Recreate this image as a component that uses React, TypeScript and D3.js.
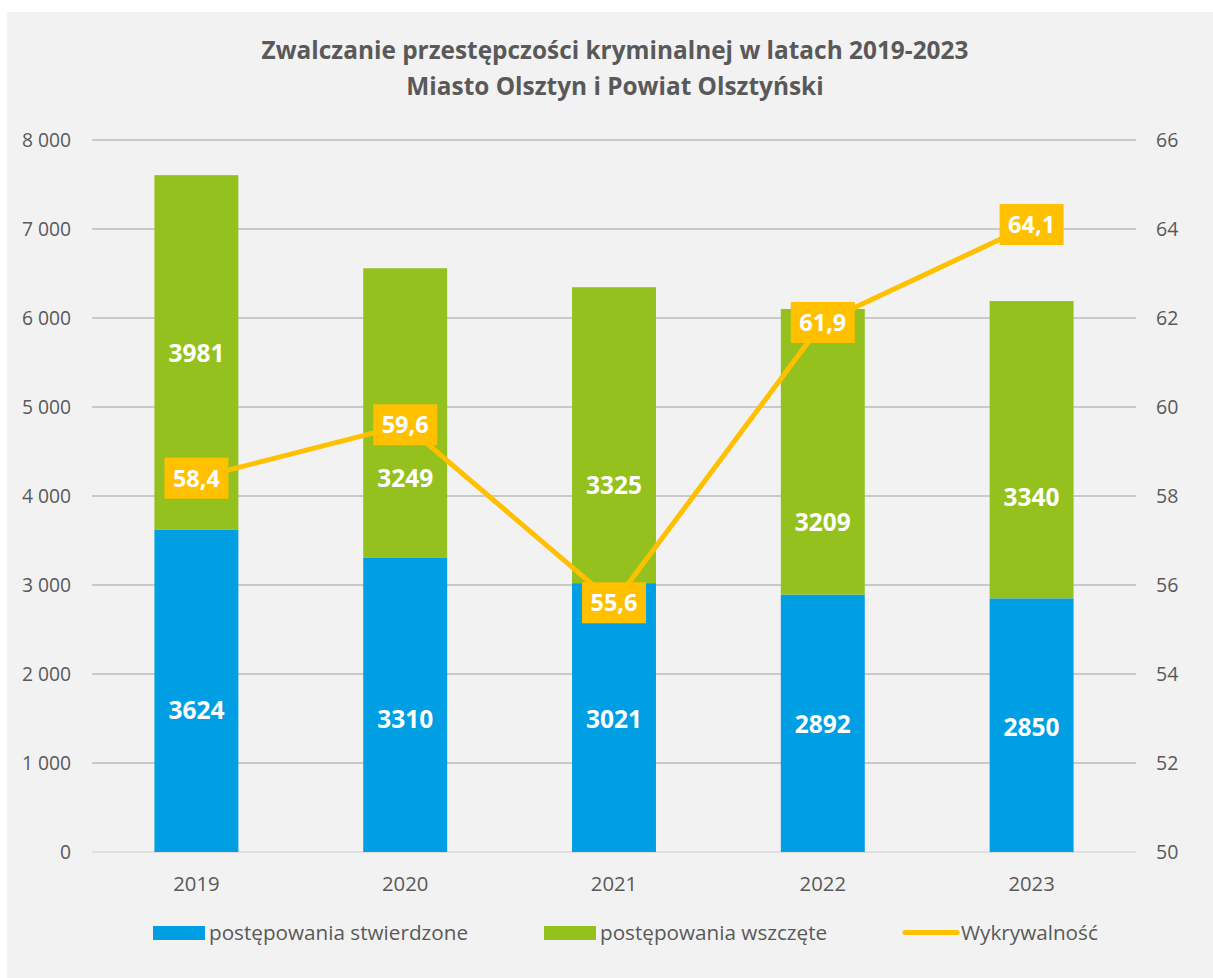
import React from "react";
import * as d3 from "d3";

const years = ["2019", "2020", "2021", "2022", "2023"];
const stwierdzone = [3624, 3310, 3021, 2892, 2850];
const wszczete = [3981, 3249, 3325, 3209, 3340];
const wykrywalnosc = [58.4, 59.6, 55.6, 61.9, 64.1];
// data-unit anchors for the (manually placed) bar labels
const blueLabelAt = [1596, 1494, 1494, 1438, 1404];
const greenLabelAt = [5607, 4202, 4120, 3708, 3990];
const leftTicks = [0, 1000, 2000, 3000, 4000, 5000, 6000, 7000, 8000];
const rightTicks = [50, 52, 54, 56, 58, 60, 62, 64, 66];
const titleLines = [
  "Zwalczanie przestępczości kryminalnej w latach 2019-2023",
  "Miasto Olsztyn i Powiat Olsztyński",
];
const legendItems = ["postępowania stwierdzone", "postępowania wszczęte", "Wykrywalność"];

const BLUE = "#009FE3";
const GREEN = "#95C11F";
const ORANGE = "#FFC000";
const TEXT = "#595959";
const FONT = "'Open Sans', sans-serif";

export default function App() {
  const W = 1213;
  const H = 978;
  const left = 92;
  const right = 1136;
  const top = 140;
  const bottom = 852;

  const x = d3.scaleBand<string>().domain(years).range([left, right]).paddingInner(0.598).paddingOuter(0.299);
  const y = d3.scaleLinear().domain([0, 8000]).range([bottom, top]);
  const y2 = d3.scaleLinear().domain([50, 66]).range([bottom, top]);
  const cx = (yr: string) => (x(yr) as number) + x.bandwidth() / 2;

  const fmt = (v: number) => d3.format(",")(v).replace(/,/g, " ");
  const line = d3
    .line<number>()
    .x((_, i) => cx(years[i]))
    .y((d) => y2(d));

  const boxW = 64;
  const boxH = 41;

  return (
    <svg width={W} height={H} style={{ position: "absolute", left: 0, top: 0 }} fontFamily={FONT}>
      <rect x={0} y={0} width={W} height={H} fill="#ffffff" />
      <rect x={7} y={12} width={W - 7} height={H - 12} fill="#f2f2f2" />
      {titleLines.map((t, i) => (
        <text key={t} x={615} y={59 + i * 36} textAnchor="middle" fontSize={24.4} fontWeight={700} fill={TEXT}>
          {t}
        </text>
      ))}
      {leftTicks.map((t) => (
        <g key={t}>
          <line
            x1={left}
            x2={right}
            y1={y(t)}
            y2={y(t)}
            stroke={t === 0 ? "#d9d9d9" : "#a0a0a0"}
            strokeWidth={t === 0 ? 1.5 : 1}
          />
          <text x={71} y={y(t)} dy="0.35em" textAnchor="end" fontSize={19.3} fill={TEXT}>
            {fmt(t)}
          </text>
        </g>
      ))}
      {rightTicks.map((t) => (
        <text key={t} x={1156} y={y2(t)} dy="0.35em" textAnchor="start" fontSize={19.5} fill={TEXT}>
          {t}
        </text>
      ))}
      {years.map((yr, i) => (
        <g key={yr}>
          <rect x={x(yr)} y={y(stwierdzone[i])} width={x.bandwidth()} height={bottom - y(stwierdzone[i])} fill={BLUE} />
          <rect
            x={x(yr)}
            y={y(stwierdzone[i] + wszczete[i])}
            width={x.bandwidth()}
            height={y(stwierdzone[i]) - y(stwierdzone[i] + wszczete[i])}
            fill={GREEN}
          />
          <text x={cx(yr)} y={891} textAnchor="middle" fontSize={20.3} fill={TEXT}>
            {yr}
          </text>
        </g>
      ))}
      {years.map((yr, i) => (
        <g key={"l" + yr} fill="#ffffff" fontWeight={700} fontSize={24.5} textAnchor="middle">
          <text x={cx(yr)} y={y(blueLabelAt[i])} dy="0.36em">
            {stwierdzone[i]}
          </text>
          <text x={cx(yr)} y={y(greenLabelAt[i])} dy="0.36em">
            {wszczete[i]}
          </text>
        </g>
      ))}
      <path d={line(wykrywalnosc) || ""} fill="none" stroke={ORANGE} strokeWidth={5} strokeLinejoin="round" />
      {years.map((yr, i) => (
        <g key={"w" + yr}>
          <rect x={cx(yr) - boxW / 2} y={y2(wykrywalnosc[i]) - boxH / 2} width={boxW} height={boxH} fill={ORANGE} />
          <text
            x={cx(yr)}
            y={y2(wykrywalnosc[i])}
            dy="0.36em"
            textAnchor="middle"
            fontSize={23.5}
            fontWeight={700}
            fill="#ffffff"
          >
            {wykrywalnosc[i].toFixed(1).replace(".", ",")}
          </text>
        </g>
      ))}
      {/* legend */}
      <g fontSize={20.7} fill={TEXT}>
        <rect x={153} y={926} width={52} height={14} fill={BLUE} />
        <text x={209} y={940}>{legendItems[0]}</text>
        <rect x={544} y={926} width={52} height={14} fill={GREEN} />
        <text x={600} y={940}>{legendItems[1]}</text>
        <line x1={905} x2={957} y1={932.5} y2={932.5} stroke={ORANGE} strokeWidth={5} strokeLinecap="round" />
        <text x={961} y={940}>{legendItems[2]}</text>
      </g>
    </svg>
  );
}
